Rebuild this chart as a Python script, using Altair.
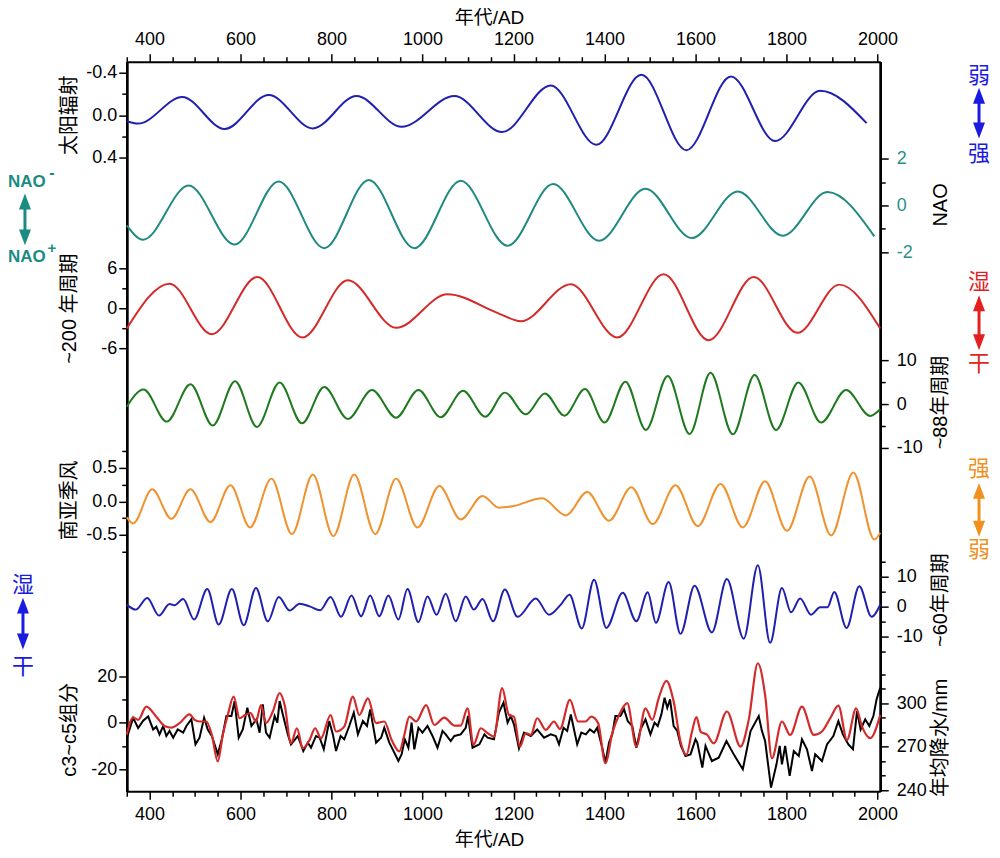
import json
import altair as alt
import pandas as pd

# ---------------- data ----------------
solar_year = [350, 375, 472, 565, 662, 759, 855, 954, 1070, 1175, 1282, 1382, 1481, 1580, 1678, 1775, 1874, 1976]
solar_val = [0.056, 0.08, -0.17, 0.13, -0.19, 0.125, -0.18, 0.11, -0.18, 0.16, -0.28, 0.28, -0.38, 0.33, -0.365, 0.245, -0.23, 0.075]

nao_year = [350, 386, 486, 587, 684, 784, 882, 982, 1084, 1187, 1287, 1388, 1490, 1592, 1693, 1792, 1890, 1993]
nao_val = [-0.85, -1.46, 0.85, -1.67, 1.02, -1.82, 1.09, -1.82, 1.05, -1.72, 0.91, -1.5, 0.71, -1.39, 0.6, -1.29, 0.57, -1.32]

c200_year = [350, 444, 537, 637, 736, 836, 942, 1055, 1168, 1216, 1326, 1428, 1530, 1629, 1728, 1824, 1916, 2006]
c200_val = [-3.05, 3.7, -3.9, 4.7, -4.4, 4.2, -2.95, 2.1, -0.8, -1.95, 3.6, -4.4, 5.1, -4.8, 4.7, -3.7, 3.55, -3.05]

c88_year = [350, 387, 438, 490, 539, 588, 636, 686, 735, 784, 836, 889, 942, 991, 1040, 1089, 1138, 1181,
            1227, 1269, 1312, 1357, 1400, 1446, 1491, 1539, 1587, 1633, 1682, 1730, 1777, 1826, 1876, 1931, 1984, 2006]
c88_val = [-0.6, 3.3, -4.0, 4.5, -4.9, 5.2, -5.2, 4.9, -4.4, 3.9, -3.4, 3.2, -3.1, 3.2, -3.0, 3.0, -2.9, 2.6,
           -2.35, 2.4, -2.65, 3.4, -4.2, 5.1, -5.9, 6.4, -6.8, 7.1, -6.9, 6.6, -5.9, 4.9, -4.2, 3.2, -2.7, -1.2]

mons_year = [350, 364, 406, 448, 490, 534, 578, 621, 668, 713, 759, 804, 850, 896, 942, 989, 1037, 1084, 1132,
             1168, 1200, 1263, 1315, 1362, 1410, 1459, 1506, 1556, 1605, 1655, 1704, 1753, 1801, 1851, 1898, 1947, 1993, 2006]
mons_val = [-0.24, -0.33, 0.18, -0.26, 0.18, -0.31, 0.24, -0.39, 0.34, -0.49, 0.40, -0.52, 0.40, -0.49, 0.34, -0.39, 0.23, -0.27, 0.08,
            -0.095, -0.07, 0.045, -0.21, 0.14, -0.29, 0.21, -0.34, 0.24, -0.37, 0.26, -0.39, 0.30, -0.44, 0.37, -0.51, 0.43, -0.57, -0.47]

c60_year = [350, 370, 395, 421, 444, 455, 474, 498, 527, 552, 581, 607, 634, 660, 684, 708, 730, 752, 775, 798,
            821, 844, 865, 885, 905, 925, 947, 967, 991, 1011, 1031, 1051, 1073, 1095, 1113, 1132, 1155, 1181,
            1209, 1249, 1278, 1304, 1323, 1350, 1377, 1404, 1440, 1470, 1495, 1513, 1541, 1567, 1598, 1636,
            1669, 1706, 1737, 1764, 1790, 1810, 1830, 1854, 1874, 1890, 1905, 1932, 1960, 1987, 2006]
c60_val = [0.67, -1.0, 2.9, -3.0, 0.9, 0.45, 2.55, -4.3, 5.9, -6.0, 5.9, -6.2, 6.2, -4.9, 3.2, -1.3, 1.0, 0.1, -1.2, 3.2,
           -3.4, 3.7, -3.2, 3.7, -3.2, 3.7, -4.3, 5.9, -5.2, 3.4, -2.7, 4.3, -4.9, 3.4, -1.0, 2.55, -4.9, 5.7,
           -3.4, 2.7, -2.7, 0.67, 4.0, -7.3, 9.0, -7.1, 4.6, -4.9, 4.8, -5.4, 8.2, -9.1, 7.0, -8.6,
           9.2, -10.7, 13.8, -12.1, 6.2, -1.9, 2.7, -2.7, -0.2, -0.2, 4.9, -7.1, 6.8, -3.4, 0.67]

comp_year = [350, 364, 375, 393, 415, 433, 448, 466, 488, 499, 510, 525, 537, 550, 561, 572, 585, 598, 610, 622,
             634, 645, 656, 671, 686, 697, 711, 724, 737, 752, 764, 777, 798, 810, 828, 847, 861, 880, 898, 916,
             932, 949, 960, 971, 986, 1008, 1026, 1048, 1070, 1084, 1099, 1112, 1128, 1143, 1157, 1175, 1190,
             1201, 1214, 1227, 1238, 1252, 1271, 1289, 1302, 1324, 1342, 1358, 1371, 1386, 1402, 1417, 1432,
             1450, 1470, 1490, 1505, 1519, 1536, 1552, 1567, 1580, 1592, 1602, 1612, 1625, 1640, 1669, 1699,
             1717, 1737, 1753, 1768, 1790, 1808, 1834, 1860, 1878, 1896, 1914, 1933, 1953, 1966, 1984, 2006]
comp_val = [-5.0, 2.3, 1.3, 7.0, 2.7, -1.3, -2.0, -0.1, 3.7, 1.3, 0.6, 0.6, -5.2, -16.6, -5.2, 3.4, 11.3, 2.0, 3.4, 4.2,
            0.6, 7.7, -0.1, 4.9, 12.8, 7.7, -8.8, -2.3, -10.9, -7.3, -2.3, -6.6, 3.4, -3.7, -1.6, 11.3, 3.4, 10.6, -0.1, 0.6,
            -7.3, -12.3, -5.2, 2.7, 0.6, 7.7, -0.9, 2.3, -1.15, -1.15, 6.3, -9.5, -2.3, -4.4, -5.9, 15.0, 3.4,
            2.7, -10.2, -4.4, -5.2, 2.0, -3.0, 0.6, -2.6, 9.9, 0.6, 0.6, 2.7, -0.1, -17.4, -4.4, 3.4,
            8.5, -10.2, 6.3, 1.3, 10.6, 18.1, 9.2, -8.0, -13.8, -4.0, 2.5, -4.0, -5.0, -8.8, 4.9, -10.2,
            1.3, 25.7, 12.0, -15.2, 0.6, -5.2, 7.0, -5.2, -3.7, 2.0, 7.45, -7.3, 6.3, -1.6, -6.6, 3.4]

prec_year = [350, 364, 375, 386, 397, 408, 415, 422, 430, 437, 444, 452, 462, 474, 481, 492, 501, 510, 520, 528,
             537, 550, 559, 569, 580, 587, 596, 605, 615, 624, 635, 642, 649, 656, 664, 675, 681, 686, 693, 704,
             711, 726, 738, 748, 755, 766, 774, 783, 795, 803, 810, 820, 828, 839, 849, 858, 869, 878, 885, 898,
             909, 916, 927, 938, 947, 954, 961, 969, 976, 982, 991, 1000, 1011, 1022, 1033, 1044, 1051, 1062,
             1070, 1084, 1095, 1100, 1110, 1125, 1136, 1143, 1157, 1168, 1178, 1187, 1194, 1201, 1212, 1223,
             1238, 1252, 1267, 1282, 1293, 1300, 1310, 1318, 1326, 1333, 1340, 1349, 1359, 1368, 1377, 1384,
             1395, 1402, 1410, 1417, 1424, 1435, 1443, 1451, 1461, 1470, 1479, 1490, 1501, 1510, 1517, 1525,
             1532, 1538, 1544, 1552, 1560, 1568, 1578, 1589, 1600, 1604, 1615, 1622, 1636, 1651, 1668, 1684,
             1704, 1721, 1739, 1746, 1753, 1766, 1778, 1785, 1790, 1797, 1807, 1816, 1827, 1834, 1845, 1856,
             1863, 1878, 1889, 1903, 1914, 1924, 1936, 1946, 1955, 1963, 1973, 1982, 1991, 1998, 2006]
prec_val = [276, 290, 283, 288, 291, 282, 284, 278.6, 284.4, 277.5, 281, 276.3, 282, 279.8, 284.4, 289, 271.7, 276.3, 290.1, 282,
            277.5, 264.8, 275.2, 291.3, 291.3, 301.6, 276.3, 282, 297, 284.4, 289, 279.8, 299.3, 279.8, 276.3, 291.3, 286.7, 301.6, 292.4, 278.6,
            271.7, 277.5, 267.1, 272.9, 269.4, 277.5, 276.3, 268.3, 287.8, 278.6, 267.1, 277.5, 275.2, 284.4, 293.6, 278.6, 287.8, 284.4, 295.9, 272.9,
            276.3, 283.2, 272.9, 266, 260.2, 264.8, 275.2, 269.4, 286.7, 268.3, 283.2, 279.8, 284.4, 277.5, 269.4, 281, 278.6, 274,
            277.5, 278.6, 283.2, 291.3, 269.4, 271.7, 278.6, 276.3, 275.2, 293.6, 300.5, 286.7, 291.3, 285.5, 269, 279.8,
            277.5, 282, 276.3, 278.6, 277.5, 271.7, 283.2, 281, 292.4, 282, 271.7, 279.8, 278.6, 282, 279.8, 283.2,
            269.4, 259, 272.9, 278.6, 291.3, 291.3, 295.9, 287.8, 284.4, 269.4, 282, 289, 278.6, 286.7, 284.4, 292.4,
            303.9, 297, 302.8, 284.4, 281, 270.6, 263.7, 264.8, 275.2, 272.9, 255.6, 270.6, 260.2, 262.5, 274, 264.8,
            254.5, 280.9, 291.3, 281, 274, 241.8, 257.9, 270.6, 257.9, 270.6, 249.9, 267.1, 263.7, 275.2, 268.3, 253.3,
            264.8, 260.2, 271.7, 277.5, 287.8, 278.6, 271.7, 268.3, 294.7, 282, 289, 284.4, 291.3, 302.8, 310.8]

# ---------------- layout helpers ----------------
W, H = 755, 731
LEFT, TOP = 127, 61
FONT = "Liberation Sans, Arial, Noto Sans CJK SC"
CJK = "Liberation Sans, Noto Sans CJK SC"

XSCALE = alt.Scale(domain=[350, 2006], nice=False, zero=False)


def df_of(years, vals):
    return pd.DataFrame({"year": years, "value": vals})


def yaxis(orient, values, major, fmt, title, title_y, label_color="black"):
    test = f"indexof({json.dumps(major)}, datum.value) >= 0"
    left = orient == "left"
    return alt.Axis(
        orient=orient, values=values, format=fmt,
        labelExpr=f"{test} ? replace(datum.label, '\u2212', '-') : ''",
        tickSize={"condition": {"test": test, "value": 8}, "value": 5},
        ticks=True, tickColor="black", tickWidth=1.5,
        domain=True, domainColor="black", domainWidth=2,
        labelPadding=2 if left else 8, labelColor=label_color, labelFontSize=18, labelFont=FONT,
        labelFlush=False, labelOverlap=False, grid=False,
        title=title, titleX=-57 if left else 60, titleY=title_y, titleAngle=270,
        titleAlign="center", titleBaseline="middle", titleFontSize=20, titleFont=CJK,
        titleFontWeight="normal", titleColor="black",
    )


def xaxis(orient, title_y, pad):
    test = "datum.value % 200 == 0"
    return alt.Axis(
        orient=orient, values=list(range(350, 2001, 50)), format="d",
        labelExpr=f"{test} ? datum.label : ''",
        tickSize={"condition": {"test": test, "value": 8}, "value": 5},
        tickColor="black", tickWidth=1.5, domainColor="black", domainWidth=2,
        labelPadding=pad, labelFontSize=18, labelFont=FONT, labelColor="black",
        labelFlush=False, labelOverlap=False, grid=False,
        title="年代/AD", titleX=363, titleY=title_y, titleAngle=0, titleAlign="center",
        titleBaseline="middle", titleFontSize=19, titleFont=CJK, titleFontWeight="normal",
    )


def series(df, color, dom, axis, reverse=False, interp="monotone", xax=None, width=2):
    return alt.Chart(df).mark_line(color=color, strokeWidth=width, interpolate=interp).encode(
        x=alt.X("year:Q", scale=XSCALE, axis=xax),
        y=alt.Y("value:Q", scale=alt.Scale(domain=dom, nice=False, zero=False, reverse=reverse), axis=axis),
    )


ONE = alt.Data(values=[{"a": 1}])


def txt(s, rx, ry, color, size=22, weight="normal", align="center", font=CJK):
    return alt.Chart(ONE).mark_text(text=s, color=color, fontSize=size, fontWeight=weight, font=font,
                                    align=align, baseline="middle").encode(
        x=alt.value(rx - LEFT), y=alt.value(ry - TOP))


def arrow(rx, top, bot, color):
    x = rx - LEFT
    t, b = top - TOP, bot - TOP
    shaft = alt.Chart(ONE).mark_rule(color=color, strokeWidth=3).encode(
        x=alt.value(x), y=alt.value(t + 8), y2=alt.value(b - 8))
    up = alt.Chart(ONE).mark_point(shape="M0,-1L0.75,1L-0.75,1Z", size=256, filled=True, color=color,
                                   opacity=1, strokeWidth=0).encode(x=alt.value(x), y=alt.value(t + 8))
    dn = alt.Chart(ONE).mark_point(shape="M0,1L0.75,-1L-0.75,-1Z", size=256, filled=True, color=color,
                                   opacity=1, strokeWidth=0).encode(x=alt.value(x), y=alt.value(b - 8))
    return [shaft, up, dn]


# ---------------- series layers ----------------
BLUE = "#1f1fb0"
TEAL = "#1e8a80"
RED = "#d42a2a"
GREEN = "#1f7a1f"
ORANGE = "#f0922e"

layers = [
    series(df_of(solar_year, solar_val), BLUE, [-0.5035, 6.376],
           yaxis("left", [-0.4, -0.2, 0, 0.2, 0.4], [-0.4, 0, 0.4], ".1f", "太阳辐射", 53),
           reverse=True, xax=xaxis("top", -44, 5)),
    series(df_of(nao_year, nao_val), TEAL, [-24.98, 6.128],
           yaxis("right", [-2, -1, 0, 1, 2], [-2, 0, 2], "d", "NAO", 143, label_color="#2a8f87")),
    series(df_of(c200_year, c200_val), RED, [-72.6, 37.05],
           yaxis("left", [-6, -3, 0, 3, 6], [-6, 0, 6], "d", "~200 年周期", 247)),
    series(df_of(c88_year, c88_val), GREEN, [-88.18, 77.95],
           yaxis("right", [-10, -5, 0, 5, 10], [-10, 0, 10], "d", "~88年周期", 341)),
    series(df_of(mons_year, mons_val), ORANGE, [-4.336, 6.575],
           yaxis("left", [-0.75, -0.5, -0.25, 0, 0.25, 0.5, 0.75], [-0.5, 0, 0.5], ".1f", "南亚季风", 439)),
    series(df_of(c60_year, c60_val), BLUE, [-61.67, 182],
           yaxis("right", [-15, -10, -5, 0, 5, 10, 15], [-10, 0, 10], "d", "~60年周期", 539)),
    series(df_of(prec_year, prec_val), "black", [239.3, 743.4],
           yaxis("right", list(range(240, 321, 10)), [240, 270, 300], "d", "年均降水/mm", 677),
           interp="linear", xax=xaxis("bottom", 48, 6)),
    series(df_of(comp_year, comp_val), RED, [-29.46, 284.9],
           yaxis("left", [-20, -10, 0, 10, 20], [-20, 0, 20], "d", "c3~c5组分", 669), width=2.2),
]

# ---------------- side annotations ----------------
ABLUE = "#1a1ae0"
ATEAL = "#1a8c82"
ARED = "#e41f1f"
AORANGE = "#f0901e"

AX = 981
ann = []
ann += [txt("弱", AX, 75, ABLUE), txt("强", AX, 153, ABLUE)] + arrow(AX, 87, 138, ABLUE)
ann += [txt("湿", AX, 282, ARED), txt("干", AX, 364, ARED)] + arrow(AX, 295, 350, ARED)
ann += [txt("强", AX, 469, AORANGE), txt("弱", AX, 550, AORANGE)] + arrow(AX, 483, 537, AORANGE)
ann += [txt("湿", 23, 585, ABLUE), txt("干", 23, 667, ABLUE)] + arrow(23, 598, 650, ABLUE)
ann += [txt("NAO", 8, 182, ATEAL, size=17, weight="bold", align="left", font=FONT),
        txt("-", 52, 172, ATEAL, size=16, weight="bold", font=FONT),
        txt("NAO", 8, 257, ATEAL, size=17, weight="bold", align="left", font=FONT),
        txt("+", 52, 248, ATEAL, size=15, weight="bold", font=FONT)] + arrow(25, 193, 245, ATEAL)

chart = alt.layer(*layers, *ann).resolve_scale(y="independent").resolve_axis(
    x="independent", y="independent"
).properties(
    width=W, height=H,
    autosize=alt.AutoSizeParams(type="none"),
    padding={"left": 119, "top": 53, "right": 112, "bottom": 58},
    background="white",
).configure_view(stroke=None)

chart.save("out.html", embed_options={"renderer": "svg", "actions": False})
